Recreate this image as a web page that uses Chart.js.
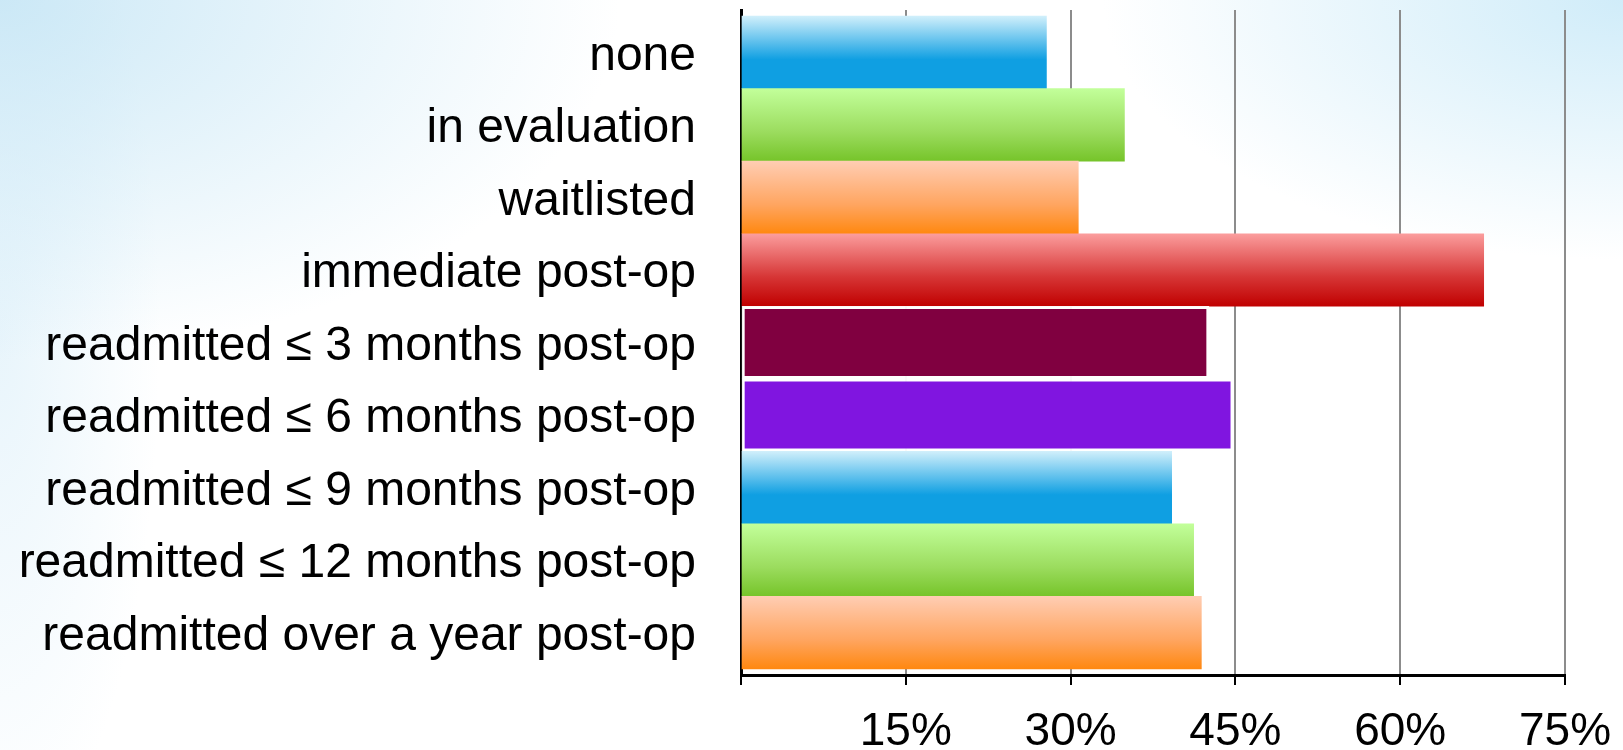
<!DOCTYPE html>
<html>
<head>
<meta charset="utf-8">
<script src="https://cdn.jsdelivr.net/npm/chart.js@4"></script>
<style>
  html, body { margin: 0; padding: 0; }
  body {
    width: 1623px; height: 750px; overflow: hidden;
    background:
      radial-gradient(ellipse 620px 360px at 0% 0%, rgba(196,229,245,0.85), rgba(255,255,255,0) 100%),
      radial-gradient(ellipse 160px 520px at 0% 45%, rgba(210,235,248,0.5), rgba(255,255,255,0) 100%),
      radial-gradient(ellipse 520px 260px at 100% 0%, rgba(200,233,248,0.85), rgba(255,255,255,0) 100%),
      #ffffff;
  }
  #wrap { position: relative; width: 1623px; height: 750px; }
</style>
</head>
<body>
<div id="wrap"><canvas id="readmitChart"></canvas></div>
<script>

var categories = ['none', 'in evaluation', 'waitlisted', 'immediate post-op',
  'readmitted \u2264 3 months post-op', 'readmitted \u2264 6 months post-op',
  'readmitted \u2264 9 months post-op', 'readmitted \u2264 12 months post-op',
  'readmitted over a year post-op'];
var shares = [27.8, 34.9, 30.7, 67.6, 42.6, 44.8, 39.2, 41.2, 41.9];
var axisMax = 75;
var axisStep = 15;

// bar look, one per category
var barStyles = [
  { top: '#d0effb', mid: '#0f9fe2', bottom: '#0f9fe2' },
  { top: '#c2ff9a', mid: '#9bdc5e', bottom: '#76c42a' },
  { top: '#ffcdb3', mid: '#ffa560', bottom: '#ff8810' },
  { top: '#fb9d9d', mid: '#d63535', bottom: '#c00000' },
  { solid: '#800040', edge: 'rgba(255,255,255,0.95)' },
  { solid: '#8015e0', edge: 'rgba(255,255,255,0.95)' },
  { top: '#d0effb', mid: '#0f9fe2', bottom: '#0f9fe2' },
  { top: '#c2ff9a', mid: '#9bdc5e', bottom: '#76c42a' },
  { top: '#ffcdb3', mid: '#ffa560', bottom: '#ff8810' }
];

function barFill(context) {
  var chart = context.chart;
  var style = barStyles[context.dataIndex];
  if (style.solid) return style.solid;
  if (!chart.chartArea) return style.bottom;
  var yScale = chart.scales.y;
  var center = yScale.getPixelForValue(context.dataIndex);
  var half = Math.abs(yScale.getPixelForValue(1) - yScale.getPixelForValue(0)) / 2;
  var g = chart.ctx.createLinearGradient(0, center - half, 0, center + half);
  g.addColorStop(0, style.top);
  g.addColorStop(0.6, style.mid);
  g.addColorStop(1, style.bottom);
  return g;
}

var dataForReadmit = {
  datasets: [{
    data: shares.map(function(v, i) { return { x: v, y: i }; }),
    backgroundColor: barFill,
    borderColor: function(context) { return barStyles[context.dataIndex].edge || 'rgba(0,0,0,0)'; },
    borderWidth: function(context) { return barStyles[context.dataIndex].edge ? 3 : 0; },
    borderSkipped: false,
    categoryPercentage: 1,
    barPercentage: 1
  }]
};

var optionsForReadmit = {
  indexAxis: 'y',
  responsive: true,
  maintainAspectRatio: false,
  animation: false,
  layout: { padding: { top: 10, right: 58, left: 0, bottom: 0 } },
  plugins: { legend: { display: false }, tooltip: { enabled: false } },
  scales: {
    x: {
      type: 'linear',
      min: 0, max: axisMax,
      afterFit: function(scale) { scale.height = 75; scale.paddingLeft = 0; scale.paddingRight = 0; },
      ticks: {
        stepSize: axisStep,
        padding: 20,
        color: '#000',
        font: { family: "'Liberation Sans', Arial, sans-serif", size: 46 },
        callback: function(v) { return v === 0 ? '' : v + '%'; }
      },
      grid: { color: '#8c8c8c', lineWidth: 2, drawTicks: true, tickLength: 10, tickColor: '#000', tickWidth: 2 },
      border: { color: '#000', width: 3 }
    },
    y: {
      type: 'linear',
      reverse: true,
      offset: false,
      min: -0.585, max: categories.length - 1 + 0.585,
      afterFit: function(scale) { scale.width = 741; scale.paddingTop = 0; scale.paddingBottom = 0; },
      ticks: {
        stepSize: 1,
        includeBounds: false,
        padding: 45,
        labelOffset: 4,
        color: '#000',
        font: { family: "'Liberation Sans', Arial, sans-serif", size: 48 },
        callback: function(v) { return Number.isInteger(v) ? categories[v] : ''; }
      },
      grid: { display: false, drawTicks: false, offset: false },
      border: { color: '#000', width: 3 }
    }
  }
};

var ChartIdReadmit = document.getElementById('readmitChart').getContext('2d');
var ChartForReadmit = new Chart(ChartIdReadmit, { type: 'bar', data: dataForReadmit, options: optionsForReadmit });
</script>
</body>
</html>
